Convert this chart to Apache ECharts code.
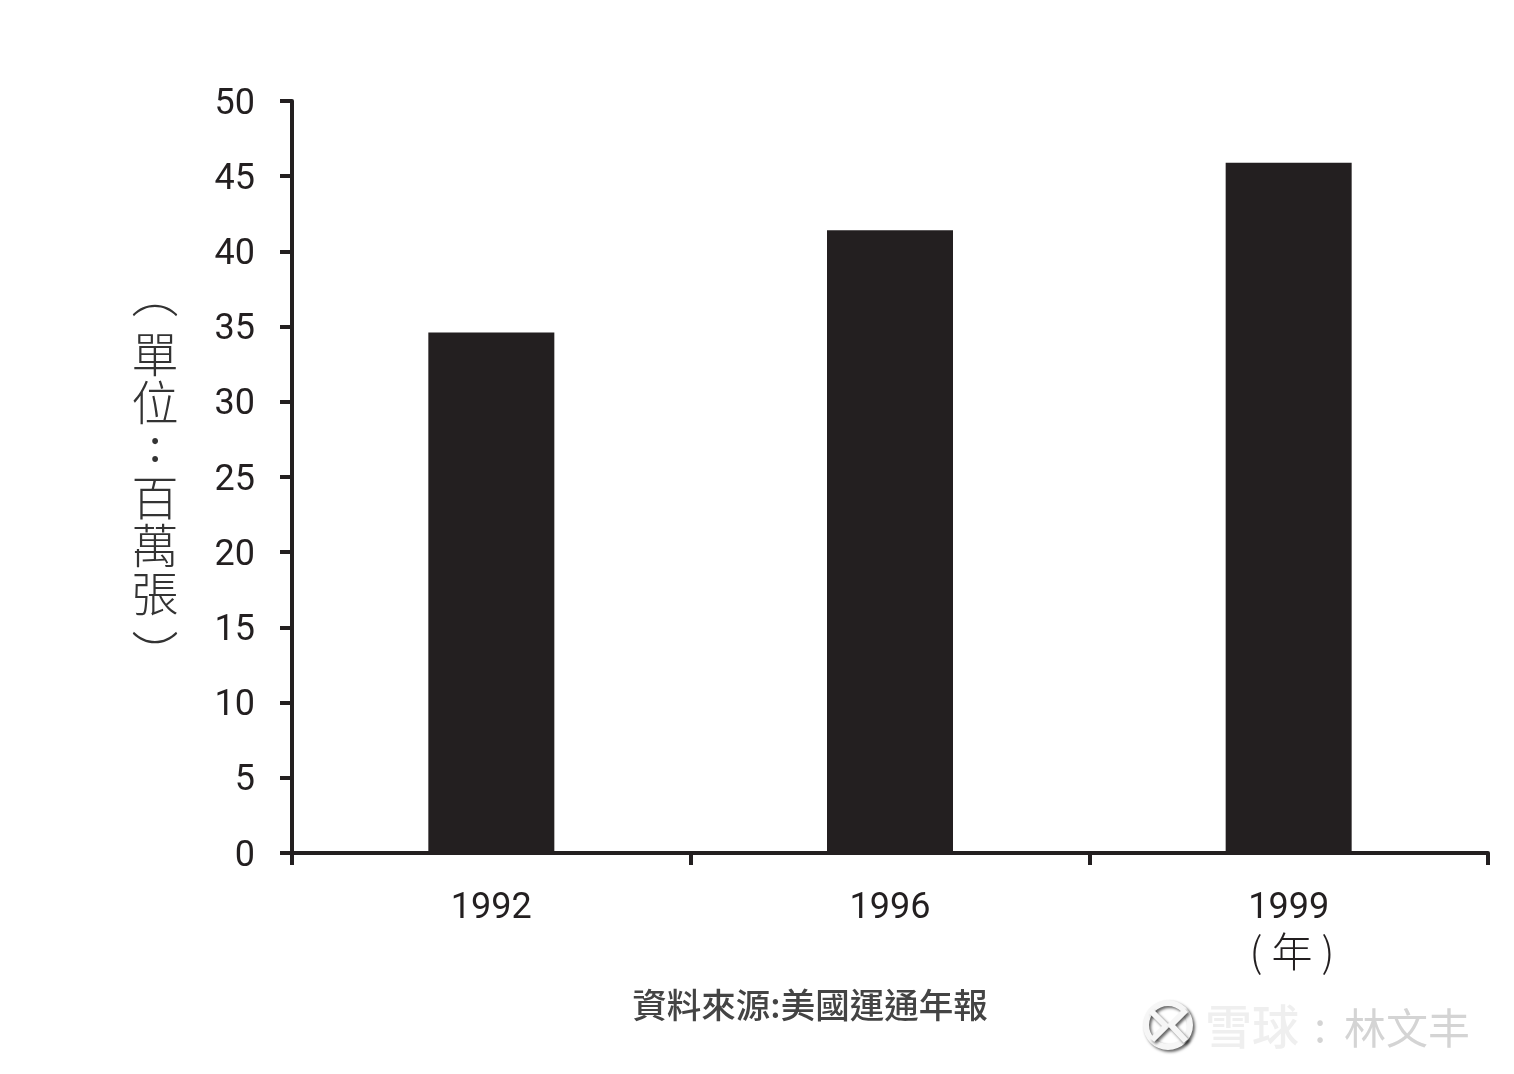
<!DOCTYPE html>
<html><head><meta charset="utf-8">
<style>html,body{margin:0;padding:0;background:#fff}#c{width:1514px;height:1074px}</style>
<script src="https://cdn.jsdelivr.net/npm/echarts@6/dist/echarts.min.js"></script>
</head><body><div id="c"></div>
<script>
const categories=['1992','1996','1999'];
const values=[34.6,41.4,45.9];
const yNameOpen='︵';
const yNameA='單\n位';
const yNameColon=':';
const yNameB='百\n萬\n張';
const yNameClose='︶';
const xUnit='( 年 )';
const source='資料來源:美國運通年報';
const wmA='雪球';
const wmB=':';
const wmC='林文丰';
const ink='#231f20';
const latin='Roboto,"DejaVu Sans Condensed",sans-serif';
const cjk='"Noto Sans CJK TC"';
const shadow={shadowColor:'rgba(0,0,0,0.6)',shadowBlur:3,shadowOffsetX:2,shadowOffsetY:2};
const logo='#f6f6f6';
const chart=echarts.init(document.getElementById('c'),null,{renderer:'canvas'});
const nameStyle={fill:'#333',font:'300 47px '+cjk,lineHeight:48,align:'center',verticalAlign:'middle'};
chart.setOption({
 animation:false,
 backgroundColor:'#fff',
 grid:{left:292,top:101,width:1196,height:752,containLabel:false},
 xAxis:{type:'category',data:categories,
  axisLine:{lineStyle:{color:ink,width:4}},
  axisTick:{show:true,alignWithLabel:false,length:12,lineStyle:{color:ink,width:4}},
  axisLabel:{color:ink,fontSize:36,margin:38,fontFamily:latin}},
 yAxis:{type:'value',min:0,max:50,interval:5,
  axisLine:{show:true,lineStyle:{color:ink,width:4}},
  axisTick:{show:true,length:12,lineStyle:{color:ink,width:4}},
  splitLine:{show:false},
  axisLabel:{margin:37,formatter:'{t|{value}}',
   rich:{t:{color:ink,fontSize:36,fontFamily:latin,padding:[7,0,0,0]}}}},
 series:[{type:'bar',data:values,barWidth:126,itemStyle:{color:ink}}],
 graphic:[
  {type:'text',x:155,y:294,style:{...nameStyle,text:yNameOpen}},
  {type:'text',x:155,y:378,style:{...nameStyle,text:yNameA}},
  {type:'text',x:155,y:444,style:{...nameStyle,text:yNameColon,font:'400 44px '+cjk}},
  {type:'text',x:155,y:545,style:{...nameStyle,text:yNameB}},
  {type:'text',x:155,y:653,style:{...nameStyle,text:yNameClose}},
  {type:'text',x:1292,y:951,style:{text:xUnit,fill:ink,font:'300 41px '+cjk,align:'center',verticalAlign:'middle'}},
  {type:'text',x:810,y:1005,style:{text:source,fill:'#444',font:'500 34.5px '+cjk,align:'center',verticalAlign:'middle'}},
  {type:'ring',shape:{cx:1168,cy:1025,r:25,r0:19},style:{fill:logo,...shadow}},
  {type:'polyline',shape:{points:[[1151,1011],[1166,1026],[1152,1040]]},style:{stroke:logo,fill:'none',lineWidth:6,...shadow}},
  {type:'polyline',shape:{points:[[1186,1010],[1171,1025],[1186,1041]]},style:{stroke:logo,fill:'none',lineWidth:6,...shadow}},
  {type:'text',x:1205,y:1026,style:{text:wmA,fill:'#efefef',font:'500 47px "Noto Sans CJK SC"',align:'left',verticalAlign:'middle',...shadow}},
  {type:'text',x:1320,y:1026,style:{text:wmB,fill:'#d4d4d4',font:'400 42px "Noto Sans CJK SC"',align:'center',verticalAlign:'middle'}},
  {type:'text',x:1344,y:1028,style:{text:wmC,fill:'#d4d4d4',font:'400 42px "Noto Sans CJK SC"',align:'left',verticalAlign:'middle'}}
 ]
});
</script></body></html>
